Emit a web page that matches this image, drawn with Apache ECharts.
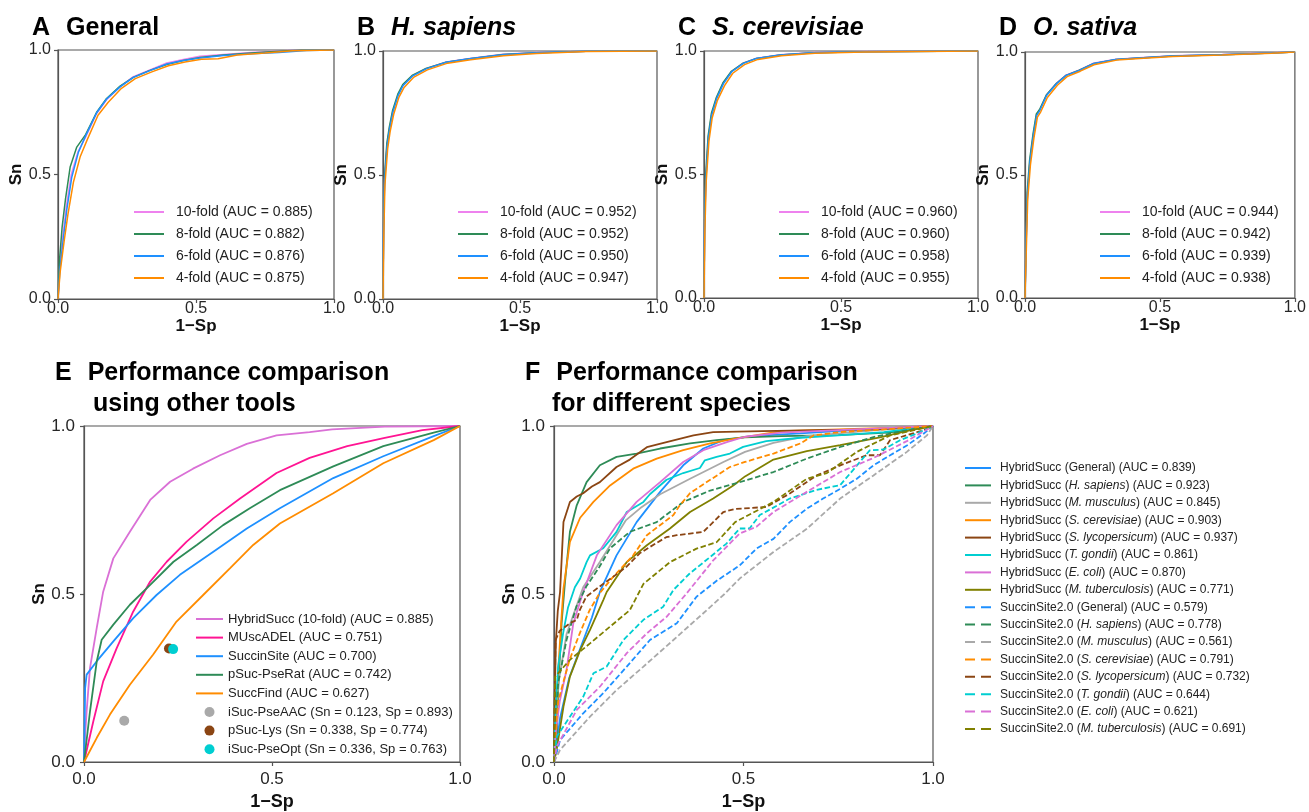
<!DOCTYPE html>
<html>
<head>
<meta charset="utf-8">
<script src="https://cdn.jsdelivr.net/npm/echarts@6/dist/echarts.min.js"></script>
<style>html,body{margin:0;padding:0;background:#fff;}#c{width:1309px;height:812px;}</style>
</head>
<body>
<div id="c"></div>
<script>
// ---------- DATA ----------
const foldNames = ['10-fold', '8-fold', '6-fold', '4-fold'];
const aucA = [0.885, 0.882, 0.876, 0.875];
const aucB = [0.952, 0.952, 0.950, 0.947];
const aucC = [0.960, 0.960, 0.958, 0.955];
const aucD = [0.944, 0.942, 0.939, 0.938];

const A_10 = [[0,0],[0.006,0.13],[0.018,0.26],[0.03,0.37],[0.048,0.5],[0.072,0.59],[0.1,0.65],[0.14,0.745],[0.176,0.8],[0.225,0.853],[0.273,0.893],[0.333,0.92],[0.394,0.948],[0.454,0.962],[0.514,0.975],[0.6,0.982],[0.7,0.99],[0.8,0.996],[0.87,1],[1,1]];
const A_8 = [[0,0],[0.005,0.15],[0.015,0.29],[0.027,0.4],[0.044,0.53],[0.068,0.61],[0.1,0.66],[0.14,0.75],[0.176,0.805],[0.225,0.855],[0.273,0.89],[0.333,0.918],[0.394,0.942],[0.454,0.958],[0.514,0.97],[0.6,0.98],[0.7,0.988],[0.8,0.995],[0.88,1],[1,1]];
const A_6 = [[0,0],[0.007,0.12],[0.02,0.25],[0.032,0.36],[0.05,0.49],[0.074,0.59],[0.1,0.655],[0.14,0.748],[0.176,0.803],[0.225,0.852],[0.273,0.89],[0.333,0.917],[0.394,0.944],[0.454,0.958],[0.514,0.968],[0.6,0.978],[0.7,0.985],[0.8,0.99],[0.9,0.998],[1,1]];
const A_4 = [[0,0],[0.008,0.11],[0.022,0.23],[0.036,0.34],[0.056,0.47],[0.08,0.57],[0.106,0.64],[0.145,0.738],[0.182,0.79],[0.23,0.846],[0.28,0.885],[0.34,0.912],[0.4,0.937],[0.46,0.952],[0.52,0.963],[0.58,0.965],[0.65,0.98],[0.75,0.988],[0.85,0.997],[1,1]];

const B_10 = [[0,0],[0.002,0.29],[0.006,0.49],[0.015,0.625],[0.024,0.69],[0.036,0.757],[0.055,0.823],[0.073,0.862],[0.109,0.902],[0.158,0.93],[0.231,0.956],[0.316,0.97],[0.438,0.987],[0.56,0.994],[0.742,0.999],[1,1]];
const B_8 = [[0,0],[0.002,0.3],[0.006,0.5],[0.014,0.628],[0.023,0.693],[0.035,0.76],[0.054,0.826],[0.072,0.865],[0.108,0.903],[0.157,0.93],[0.23,0.955],[0.316,0.969],[0.438,0.986],[0.56,0.993],[0.742,0.999],[1,1]];
const B_6 = [[0,0],[0.002,0.28],[0.006,0.48],[0.015,0.618],[0.024,0.685],[0.036,0.753],[0.055,0.82],[0.073,0.86],[0.109,0.9],[0.158,0.928],[0.231,0.955],[0.316,0.969],[0.438,0.985],[0.56,0.993],[0.742,0.999],[1,1]];
const B_4 = [[0,0],[0.003,0.26],[0.007,0.46],[0.017,0.605],[0.026,0.675],[0.039,0.745],[0.058,0.813],[0.077,0.853],[0.113,0.895],[0.162,0.924],[0.236,0.951],[0.32,0.965],[0.44,0.981],[0.56,0.99],[0.742,0.998],[1,1]];

const C_10 = [[0,0],[0.002,0.285],[0.007,0.49],[0.016,0.65],[0.028,0.745],[0.046,0.81],[0.071,0.872],[0.101,0.918],[0.144,0.952],[0.192,0.971],[0.278,0.985],[0.4,0.994],[0.582,0.998],[1,1]];
const C_8 = [[0,0],[0.002,0.29],[0.006,0.495],[0.015,0.655],[0.027,0.748],[0.045,0.812],[0.07,0.873],[0.1,0.918],[0.143,0.951],[0.191,0.97],[0.278,0.984],[0.4,0.993],[0.582,0.997],[1,1]];
const C_6 = [[0,0],[0.002,0.278],[0.007,0.482],[0.016,0.645],[0.028,0.74],[0.046,0.807],[0.071,0.868],[0.101,0.916],[0.144,0.95],[0.192,0.97],[0.278,0.984],[0.4,0.993],[0.582,0.997],[1,1]];
const C_4 = [[0,0],[0.003,0.265],[0.008,0.47],[0.018,0.635],[0.03,0.73],[0.049,0.8],[0.075,0.86],[0.105,0.91],[0.148,0.945],[0.197,0.966],[0.283,0.981],[0.405,0.991],[0.585,0.996],[1,1]];

const D_10 = [[0,0],[0.004,0.22],[0.009,0.42],[0.018,0.556],[0.031,0.665],[0.043,0.745],[0.055,0.765],[0.08,0.826],[0.117,0.874],[0.153,0.907],[0.202,0.927],[0.252,0.954],[0.337,0.971],[0.423,0.977],[0.546,0.985],[0.73,0.99],[0.914,0.997],[1,1]];
const D_8 = [[0,0],[0.004,0.23],[0.008,0.43],[0.017,0.56],[0.03,0.668],[0.042,0.748],[0.054,0.766],[0.079,0.825],[0.116,0.872],[0.152,0.905],[0.201,0.926],[0.251,0.952],[0.337,0.97],[0.423,0.976],[0.546,0.984],[0.73,0.989],[0.914,0.996],[1,1]];
const D_6 = [[0,0],[0.004,0.211],[0.009,0.415],[0.018,0.551],[0.031,0.66],[0.043,0.741],[0.055,0.762],[0.08,0.823],[0.117,0.871],[0.153,0.905],[0.202,0.925],[0.252,0.952],[0.337,0.97],[0.423,0.976],[0.546,0.984],[0.73,0.989],[0.914,0.996],[1,1]];
const D_4 = [[0,0],[0.005,0.2],[0.01,0.4],[0.02,0.54],[0.033,0.65],[0.046,0.735],[0.058,0.756],[0.083,0.815],[0.12,0.865],[0.156,0.9],[0.205,0.922],[0.256,0.948],[0.34,0.967],[0.425,0.974],[0.548,0.982],[0.73,0.988],[0.914,0.995],[1,1]];

// Panel E
const toolNames = ['HybridSucc (10-fold) (AUC = 0.885)', 'MUscADEL (AUC = 0.751)', 'SuccinSite (AUC = 0.700)', 'pSuc-PseRat (AUC = 0.742)', 'SuccFind (AUC = 0.627)'];
const pointNames = ['iSuc-PseAAC (Sn = 0.123, Sp = 0.893)', 'pSuc-Lys (Sn = 0.338, Sp = 0.774)', 'iSuc-PseOpt (Sn = 0.336, Sp = 0.763)'];
const pointSn = [0.123, 0.338, 0.336];
const pointSp = [0.893, 0.774, 0.763];
const E_hybrid = [[0,0],[0.003,0.08],[0.007,0.151],[0.016,0.28],[0.034,0.4],[0.051,0.507],[0.078,0.606],[0.122,0.685],[0.176,0.78],[0.229,0.834],[0.29,0.873],[0.362,0.913],[0.433,0.947],[0.512,0.972],[0.6,0.982],[0.66,0.99],[0.8,0.998],[1,1]];
const E_muscadel = [[0,0],[0.025,0.122],[0.051,0.24],[0.087,0.339],[0.131,0.448],[0.176,0.537],[0.22,0.596],[0.273,0.656],[0.344,0.725],[0.415,0.784],[0.512,0.86],[0.6,0.905],[0.7,0.94],[0.8,0.965],[0.9,0.988],[1,1]];
const E_succinsite = [[0,0],[0.003,0.22],[0.007,0.26],[0.034,0.3],[0.078,0.359],[0.131,0.428],[0.193,0.497],[0.255,0.557],[0.344,0.626],[0.433,0.695],[0.521,0.755],[0.663,0.845],[0.796,0.91],[0.93,0.97],[1,1]];
const E_psucpserat = [[0,0],[0.016,0.151],[0.034,0.3],[0.047,0.364],[0.078,0.409],[0.122,0.468],[0.176,0.527],[0.238,0.596],[0.3,0.646],[0.37,0.705],[0.441,0.755],[0.521,0.809],[0.663,0.88],[0.796,0.94],[0.93,0.98],[1,1]];
const E_succfind = [[0,0],[0.034,0.072],[0.069,0.141],[0.122,0.23],[0.184,0.32],[0.246,0.418],[0.317,0.497],[0.388,0.576],[0.45,0.646],[0.521,0.71],[0.663,0.8],[0.796,0.889],[0.93,0.958],[1,1]];

// Panel F
const species = ['General', 'H. sapiens', 'M. musculus', 'S. cerevisiae', 'S. lycopersicum', 'T. gondii', 'E. coli', 'M. tuberculosis'];
const aucHybrid = [0.839, 0.923, 0.845, 0.903, 0.937, 0.861, 0.870, 0.771];
const aucSS = [0.579, 0.778, 0.561, 0.791, 0.732, 0.644, 0.621, 0.691];
const F_h_general = [[0,0],[0.005,0.04],[0.016,0.13],[0.04,0.25],[0.07,0.34],[0.1,0.43],[0.121,0.506],[0.165,0.615],[0.218,0.714],[0.28,0.804],[0.341,0.883],[0.394,0.933],[0.447,0.958],[0.52,0.97],[0.65,0.978],[0.82,0.99],[1,1]];
const F_h_sapiens = [[0,0],[0.007,0.065],[0.011,0.214],[0.02,0.413],[0.029,0.536],[0.042,0.685],[0.06,0.764],[0.086,0.833],[0.121,0.883],[0.165,0.908],[0.218,0.918],[0.28,0.933],[0.359,0.948],[0.429,0.958],[0.504,0.966],[0.6,0.97],[0.75,0.973],[0.88,0.98],[0.95,0.99],[1,1]];
const F_h_musculus = [[0,0],[0.002,0.086],[0.011,0.23],[0.033,0.38],[0.077,0.52],[0.121,0.595],[0.19,0.72],[0.227,0.755],[0.28,0.797],[0.359,0.843],[0.447,0.893],[0.504,0.923],[0.579,0.95],[0.667,0.97],[0.843,0.987],[1,1]];
const F_h_cerevisiae = [[0,0],[0.003,0.1],[0.01,0.25],[0.018,0.4],[0.025,0.516],[0.042,0.655],[0.069,0.727],[0.104,0.774],[0.148,0.823],[0.209,0.873],[0.271,0.903],[0.341,0.928],[0.412,0.948],[0.482,0.963],[0.6,0.985],[0.75,0.99],[0.9,0.995],[1,1]];
const F_h_lycopersicum = [[0,0],[0.002,0.2],[0.005,0.36],[0.01,0.45],[0.016,0.506],[0.025,0.714],[0.042,0.774],[0.06,0.79],[0.077,0.8],[0.1,0.82],[0.121,0.833],[0.165,0.878],[0.2,0.9],[0.245,0.937],[0.297,0.952],[0.368,0.972],[0.42,0.982],[0.55,0.985],[0.7,0.988],[0.85,0.99],[1,1]];
const F_h_gondii = [[0,0],[0.004,0.15],[0.011,0.284],[0.024,0.383],[0.037,0.46],[0.055,0.52],[0.069,0.546],[0.086,0.595],[0.095,0.615],[0.13,0.636],[0.165,0.685],[0.192,0.744],[0.236,0.774],[0.253,0.797],[0.297,0.84],[0.341,0.86],[0.385,0.875],[0.398,0.898],[0.429,0.908],[0.464,0.918],[0.499,0.938],[0.56,0.955],[0.65,0.965],[0.75,0.972],[0.87,0.982],[1,1]];
const F_h_coli = [[0,0],[0.005,0.09],[0.015,0.18],[0.033,0.274],[0.051,0.413],[0.077,0.506],[0.113,0.615],[0.165,0.705],[0.218,0.774],[0.28,0.833],[0.341,0.893],[0.394,0.928],[0.456,0.952],[0.504,0.968],[0.6,0.98],[0.75,0.988],[0.9,0.995],[1,1]];
const F_h_tuberculosis = [[0,0],[0.007,0.036],[0.025,0.165],[0.042,0.254],[0.069,0.333],[0.095,0.393],[0.13,0.482],[0.139,0.506],[0.192,0.595],[0.245,0.645],[0.306,0.695],[0.359,0.744],[0.42,0.784],[0.473,0.823],[0.504,0.85],[0.579,0.9],[0.667,0.925],[0.755,0.943],[0.86,0.966],[0.95,0.99],[1,1]];
const F_s_general = [[0,0],[0.016,0.065],[0.077,0.145],[0.13,0.205],[0.192,0.284],[0.253,0.363],[0.324,0.413],[0.376,0.492],[0.43,0.54],[0.49,0.585],[0.534,0.635],[0.579,0.664],[0.622,0.714],[0.667,0.754],[0.71,0.784],[0.755,0.813],[0.799,0.843],[0.843,0.883],[0.887,0.913],[0.931,0.942],[0.975,0.977],[1,1]];
const F_s_sapiens = [[0,0],[0.004,0.12],[0.011,0.235],[0.033,0.363],[0.059,0.462],[0.085,0.522],[0.12,0.581],[0.148,0.636],[0.2,0.685],[0.271,0.714],[0.341,0.774],[0.412,0.808],[0.482,0.83],[0.579,0.863],[0.667,0.903],[0.755,0.9375],[0.843,0.967],[0.92,0.985],[1,1]];
const F_s_musculus = [[0,0],[0.016,0.036],[0.095,0.135],[0.165,0.214],[0.236,0.284],[0.315,0.363],[0.403,0.452],[0.45,0.5],[0.49,0.546],[0.579,0.625],[0.667,0.694],[0.755,0.784],[0.843,0.853],[0.931,0.923],[0.984,0.972],[1,1]];
const F_s_cerevisiae = [[0,0],[0.005,0.1],[0.011,0.18],[0.024,0.235],[0.041,0.304],[0.068,0.383],[0.094,0.452],[0.12,0.502],[0.156,0.551],[0.209,0.615],[0.245,0.675],[0.315,0.735],[0.332,0.764],[0.359,0.8],[0.403,0.833],[0.464,0.878],[0.504,0.893],[0.579,0.918],[0.65,0.948],[0.685,0.972],[0.755,0.982],[0.9,0.992],[1,1]];
const F_s_lycopersicum = [[0,0],[0.004,0.363],[0.015,0.39],[0.042,0.413],[0.06,0.423],[0.068,0.452],[0.085,0.492],[0.12,0.522],[0.156,0.551],[0.191,0.581],[0.226,0.621],[0.253,0.64],[0.296,0.669],[0.324,0.675],[0.394,0.685],[0.42,0.714],[0.447,0.744],[0.477,0.753],[0.56,0.759],[0.622,0.799],[0.693,0.853],[0.76,0.885],[0.825,0.913],[0.86,0.913],[0.887,0.958],[0.975,0.987],[1,1]];
const F_s_gondii = [[0,0],[0.007,0.075],[0.042,0.135],[0.077,0.194],[0.104,0.264],[0.139,0.284],[0.183,0.363],[0.236,0.423],[0.288,0.462],[0.315,0.512],[0.358,0.561],[0.402,0.601],[0.455,0.65],[0.49,0.695],[0.516,0.695],[0.543,0.735],[0.622,0.784],[0.693,0.81],[0.755,0.824],[0.79,0.87],[0.833,0.9275],[0.87,0.93],[0.912,0.957],[0.956,0.977],[1,1]];
const F_s_coli = [[0,0],[0.007,0.045],[0.06,0.155],[0.121,0.224],[0.192,0.324],[0.245,0.383],[0.297,0.432],[0.35,0.502],[0.42,0.6],[0.49,0.68],[0.534,0.7],[0.579,0.744],[0.667,0.804],[0.755,0.863],[0.843,0.905],[0.931,0.955],[1,1]];
const F_s_tuberculosis = [[0,0],[0.003,0.254],[0.042,0.304],[0.095,0.353],[0.148,0.403],[0.2,0.452],[0.236,0.53],[0.306,0.595],[0.376,0.635],[0.429,0.654],[0.478,0.714],[0.579,0.774],[0.667,0.843],[0.72,0.86],[0.799,0.923],[0.887,0.972],[1,1]];

const tickLabels = ['0.0', '0.5', '1.0'];

// ---------- STYLE ----------
const FONT = '"Liberation Sans", Arial, Helvetica, sans-serif';
const foldColors = ['#ee82ee', '#2e8b57', '#1e90ff', '#ff8c00'];
const speciesColors = ['#1e90ff', '#2e8b57', '#a9a9a9', '#ff8c00', '#8b4513', '#00ced1', '#da70d6', '#808000'];
const toolColors = ['#da70d6', '#ff1493', '#1e90ff', '#2e8b57', '#ff8c00'];
const pointColors = ['#a9a9a9', '#8b4513', '#00ced1'];

const grids = [
  {left: 58, top: 50, width: 276, height: 249},
  {left: 383, top: 51, width: 274, height: 248},
  {left: 704, top: 51, width: 274, height: 247},
  {left: 1025, top: 52, width: 272, height: 246},
  {left: 84, top: 426, width: 376, height: 337},
  {left: 554, top: 426, width: 379, height: 336}
];

function fmtTick(v) { return tickLabels[Math.round(v * 2)]; }

const xAxes = [], yAxes = [];
grids.forEach((g, i) => {
  const big = i >= 4;
  xAxes.push({
    gridIndex: i, type: 'value', min: 0, max: 1, interval: 0.5,
    name: '1\u2212Sp', nameLocation: 'middle', nameGap: big ? 31 : 19,
    nameTextStyle: {fontFamily: FONT, fontSize: big ? 18 : 17, fontWeight: 'bold', color: '#111'},
    axisLine: {show: true, lineStyle: {color: '#555', width: 1.2}},
    axisTick: {show: true, length: 4, lineStyle: {color: '#555', width: 1.2}},
    axisLabel: {formatter: fmtTick, fontFamily: FONT, fontSize: big ? 17 : 16, color: '#262626', margin: big ? 9 : 2, showMinLabel: true, showMaxLabel: true},
    splitLine: {show: false}
  });
  yAxes.push({
    gridIndex: i, type: 'value', min: 0, max: 1, interval: 0.5,
    name: 'Sn', nameLocation: 'middle', nameGap: big ? 34 : 30,
    nameTextStyle: {fontFamily: FONT, fontSize: 17, fontWeight: 'bold', color: '#111'},
    axisLine: {show: true, lineStyle: {color: '#555', width: 1.2}},
    axisTick: {show: true, length: 4, lineStyle: {color: '#555', width: 1.2}},
    axisLabel: {formatter: fmtTick, fontFamily: FONT, fontSize: big ? 17 : 16, color: '#262626', margin: big ? 9 : 7, showMinLabel: true, showMaxLabel: true},
    splitLine: {show: false}
  });
});

const series = [];
const legends = [];
function lineSeries(name, data, idx, color, width, dashed) {
  return {
    name: name, type: 'line', xAxisIndex: idx, yAxisIndex: idx, data: data,
    symbol: 'none', showSymbol: false, smooth: false, animation: false,
    lineStyle: {color: color, width: width, type: dashed ? [5.5, 2.6] : 'solid'},
    itemStyle: {color: color}
  };
}
// legend entry for a line: hide the marker, keep the stroke
function lineItem(name, dashed) {
  const it = {name: name, itemStyle: {opacity: 0, borderWidth: 0}};
  if (dashed) it.lineStyle = {type: [10, 6]};
  return it;
}

// Panels A-D
const foldData = [[A_10, A_8, A_6, A_4], [B_10, B_8, B_6, B_4], [C_10, C_8, C_6, C_4], [D_10, D_8, D_6, D_4]];
const foldAucs = [aucA, aucB, aucC, aucD];
const legendLefts = [133, 457, 778, 1099];
for (let p = 0; p < 4; p++) {
  const names = [];
  for (let k = 0; k < 4; k++) {
    const nm = foldNames[k] + ' (AUC = ' + foldAucs[p][k].toFixed(3) + ')';
    names.push(lineItem(nm, false));
    series.push(lineSeries(nm, foldData[p][k], p, foldColors[k], 1.5, false));
  }
  legends.push({
    data: names, orient: 'vertical', left: legendLefts[p], top: 201, padding: 0,
    itemWidth: 30, itemHeight: 14, itemGap: 0, selectedMode: false,
    textStyle: {fontFamily: FONT, fontSize: 14, color: '#222', lineHeight: 22, padding: [0, 0, 0, 7]}
  });
}

// Panel E
const toolData = [E_hybrid, E_muscadel, E_succinsite, E_psucpserat, E_succfind];
const eNames = [];
toolNames.forEach((nm, k) => {
  eNames.push(lineItem(nm, false));
  series.push(lineSeries(nm, toolData[k], 4, toolColors[k], 1.8, false));
});
pointNames.forEach((nm, k) => {
  eNames.push({name: nm});
  series.push({
    name: nm, type: 'scatter', xAxisIndex: 4, yAxisIndex: 4,
    data: [[1 - pointSp[k], pointSn[k]]], symbol: 'circle', symbolSize: 10,
    itemStyle: {color: pointColors[k], opacity: 1}, animation: false
  });
});
legends.push({
  data: eNames, orient: 'vertical', left: 195, top: 609.7, padding: 0,
  itemWidth: 27, itemHeight: 10, itemGap: 0, selectedMode: false,
  textStyle: {fontFamily: FONT, fontSize: 13, color: '#222', lineHeight: 18.6}
});

// Panel F
const fHybrid = [F_h_general, F_h_sapiens, F_h_musculus, F_h_cerevisiae, F_h_lycopersicum, F_h_gondii, F_h_coli, F_h_tuberculosis];
const fSS = [F_s_general, F_s_sapiens, F_s_musculus, F_s_cerevisiae, F_s_lycopersicum, F_s_gondii, F_s_coli, F_s_tuberculosis];
const fNames = [];
species.forEach((sp, k) => {
  const nm = 'HybridSucc (' + sp + ') (AUC = ' + aucHybrid[k].toFixed(3) + ')';
  fNames.push(lineItem(nm, false));
  series.push(lineSeries(nm, fHybrid[k], 5, speciesColors[k], 1.8, false));
});
species.forEach((sp, k) => {
  const nm = 'SuccinSite2.0 (' + sp + ') (AUC = ' + aucSS[k].toFixed(3) + ')';
  fNames.push(lineItem(nm, true));
  series.push(lineSeries(nm, fSS[k], 5, speciesColors[k], 1.8, true));
});
legends.push({
  data: fNames, orient: 'vertical', left: 964, top: 459.3, padding: 0,
  itemWidth: 26, itemHeight: 10, itemGap: 0, selectedMode: false,
  formatter: function (name) {
    const m = name.match(/^(.*?\()(.+?)(\) \(AUC.*)$/);
    if (!m || m[2] === 'General') return '{n|' + name + '}';
    return '{n|' + m[1] + '}{i|' + m[2] + '}{n|' + m[3] + '}';
  },
  textStyle: {
    fontFamily: FONT, fontSize: 12, color: '#222', lineHeight: 17.4, padding: [0, 0, 0, 4],
    rich: {
      n: {fontFamily: FONT, fontSize: 12, color: '#222', lineHeight: 17.4},
      i: {fontFamily: FONT, fontSize: 12, color: '#222', lineHeight: 17.4, fontStyle: 'italic'}
    }
  }
});

// Titles
const titleRich = {
  l: {fontFamily: FONT, fontSize: 25, fontWeight: 'bold', color: '#000', lineHeight: 30, padding: [0, 16, 0, 0]},
  t: {fontFamily: FONT, fontSize: 25, fontWeight: 'bold', color: '#000', lineHeight: 30},
  it: {fontFamily: FONT, fontSize: 25, fontWeight: 'bold', fontStyle: 'italic', color: '#000', lineHeight: 30}
};
function mkTitle(text, left, top) {
  return {text: text, left: left, top: top, padding: 0, textStyle: {rich: titleRich, fontFamily: FONT, fontSize: 25, fontWeight: 'bold', color: '#000', lineHeight: 30}};
}
const titles = [
  mkTitle('{l|A}{t|General}', 32, 13),
  mkTitle('{l|B}{it|H. sapiens}', 357, 13),
  mkTitle('{l|C}{it|S. cerevisiae}', 678, 13),
  mkTitle('{l|D}{it|O. sativa}', 999, 13),
  mkTitle('{l|E}{t|Performance comparison}', 55, 358),
  mkTitle('{t|using other tools}', 93, 389),
  mkTitle('{l|F}{t|Performance comparison}', 525, 358),
  mkTitle('{t|for different species}', 552, 389)
];

const chart = echarts.init(document.getElementById('c'), null, {renderer: 'canvas'});
chart.setOption({
  animation: false,
  backgroundColor: '#ffffff',
  textStyle: {fontFamily: FONT},
  title: titles,
  grid: grids.map(g => Object.assign({show: true, borderColor: '#555', borderWidth: 1.2, backgroundColor: 'transparent', containLabel: false}, g)),
  xAxis: xAxes,
  yAxis: yAxes,
  legend: legends,
  series: series
});
</script>
</body>
</html>
